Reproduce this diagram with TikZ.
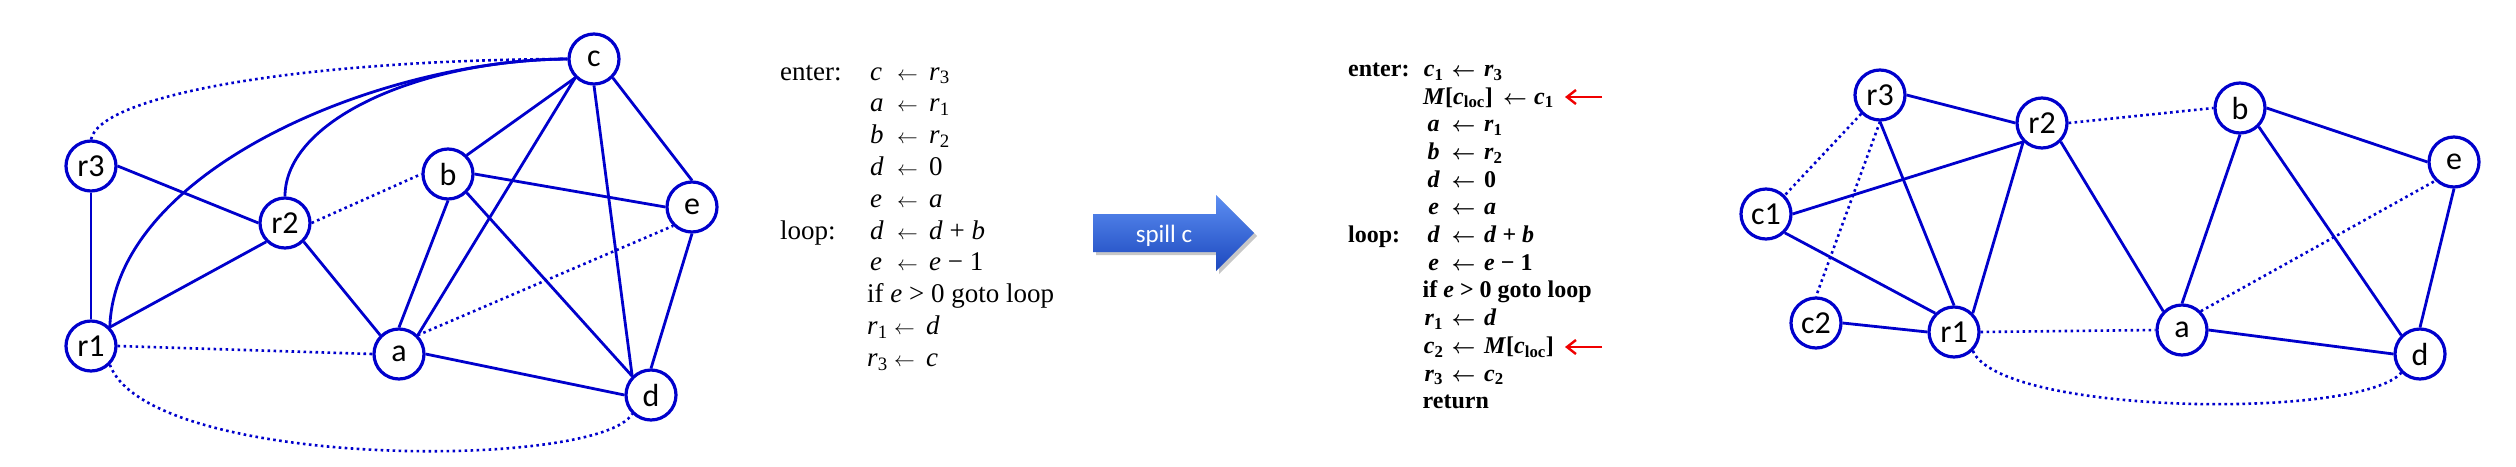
\documentclass[tikz,border=0pt]{standalone}
\usepackage{fontspec}
\setmainfont{Liberation Serif}
\newfontfamily\calfont{Carlito}
\usetikzlibrary{arrows.meta}
\definecolor{gblue}{RGB}{0,0,204}
\definecolor{spilltop}{RGB}{92,142,242}
\definecolor{spillbot}{RGB}{28,72,190}
\definecolor{redarr}{RGB}{240,0,0}
\newcommand\vr[1]{\textit{#1}}
\newcommand\larr{{\fontsize{22.5}{22.5}\selectfont$\leftarrow$}}
\newcommand\rarr{{\fontsize{21}{21}\selectfont\boldmath$\leftarrow$}}
\newcommand\lrow[2]{\makebox[27pt][l]{#1}\makebox[32pt][l]{\larr}#2}
\newcommand\rrow[2]{\makebox[22pt][c]{#1}\hspace{7pt}\makebox[32.5pt][l]{\rarr}#2}
\begin{document}
\begin{tikzpicture}[x=1pt,y=-1pt,
  vertex/.style={circle, draw=gblue, line width=3.2pt, minimum size=50pt, inner sep=0pt, fill=white,
    font=\calfont\fontsize{32}{32}\selectfont},
  solidedge/.style={gblue, line width=2.8pt},
  dotedge/.style={gblue, line width=2.6pt, dash pattern=on 2.6pt off 3.4pt},
  codel/.style={anchor=base west, inner sep=0pt, font=\fontsize{27}{32}\selectfont},
  coder/.style={anchor=base west, inner sep=0pt, font=\fontsize{24}{28}\selectfont\bfseries},
  redarrow/.style={draw=redarr, line width=2.4pt, -{Straight Barb[length=9pt,width=14pt]}},
  spilltext/.style={anchor=base, inner sep=0pt, text=white, font=\calfont\fontsize{25}{25}\selectfont},
]
\fill[white] (0,0) rectangle (2516,466);
\useasboundingbox (0,0) rectangle (2516,466);

% ---------- left graph ----------
\node[vertex] (Lc)  at (594,59)  {c};
\node[vertex] (Lr3) at (91,166)  {r3};
\node[vertex] (Lb)  at (448,174) {b};
\node[vertex] (Lr2) at (285,223) {r2};
\node[vertex] (Le)  at (692,207) {e};
\node[vertex] (Lr1) at (91,346)  {r1};
\node[vertex] (La)  at (399,354) {a};
\node[vertex] (Ld)  at (651,395) {d};

\draw[solidedge] (Lr3.east) -- (Lr2.west);
\draw[solidedge] (Lr3.south) -- (Lr1.north);
\draw[solidedge] (Lr1.north east) -- (Lr2.south west);
\draw[solidedge] (Lr2.south east) -- (La.north west);
\draw[solidedge] (Lr2.north) .. controls (285,120) and (420,60) .. (Lc.west);
\draw[solidedge] (Lr1.north east) .. controls (115,170) and (380,60) .. (Lc.west);
\draw[solidedge] (Lc.south west) -- (Lb.north east);
\draw[solidedge] (Lc.south west) -- (La.north east);
\draw[solidedge] (Lc.south) -- (Ld.north west);
\draw[solidedge] (Lc.south east) -- (Le.north);
\draw[solidedge] (Lb.east) -- (Le.west);
\draw[solidedge] (Lb.south) -- (La.north);
\draw[solidedge] (Lb.south east) -- (Ld.north west);
\draw[solidedge] (Le.south) -- (Ld.north);
\draw[solidedge] (La.east) -- (Ld.west);
\draw[dotedge] (Lr3.north) .. controls (100,95) and (300,60) .. (Lc.west);
\draw[dotedge] (Lr2.east) -- (Lb.west);
\draw[dotedge] (La.north east) -- (Le.south west);
\draw[dotedge] (Lr1.east) -- (La.west);
\draw[dotedge] (Lr1.south east) .. controls (150,470) and (600,470) .. (Ld.south west);

% ---------- original code ----------
\node[codel] (lenter) at (780,80) {enter:};
\node[codel] (lloop)  at (780,239) {loop:};
\node[codel] (l1)  at (870,80)    {\lrow{\vr{c}}{\vr{r}\textsubscript{3}}};
\node[codel] (l2)  at (870,111.8) {\lrow{\vr{a}}{\vr{r}\textsubscript{1}}};
\node[codel] (l3)  at (870,143.6) {\lrow{\vr{b}}{\vr{r}\textsubscript{2}}};
\node[codel] (l4)  at (870,175.4) {\lrow{\vr{d}}{0}};
\node[codel] (l5)  at (870,207.2) {\lrow{\vr{e}}{\vr{a}}};
\node[codel] (l6)  at (870,239)   {\lrow{\vr{d}}{\vr{d} + \vr{b}}};
\node[codel] (l7)  at (870,270.8) {\lrow{\vr{e}}{\vr{e} − 1}};
\node[codel] (l8)  at (867,302.6) {if \vr{e} > 0 goto loop};
\node[codel] (l9)  at (867,334.4) {\lrow{\vr{r}\textsubscript{1}}{\vr{d}}};
\node[codel] (l10) at (867,366.2) {\lrow{\vr{r}\textsubscript{3}}{\vr{c}}};

% ---------- spill arrow ----------
\fill[black, opacity=0.22, shift={(3,3)}]
  (1093,214) -- (1216,214) -- (1216,195) -- (1254,233) -- (1216,271) -- (1216,252) -- (1093,252) -- cycle;
\shade[top color=spilltop, bottom color=spillbot]
  (1093,214) -- (1216,214) -- (1216,195) -- (1254,233) -- (1216,271) -- (1216,252) -- (1093,252) -- cycle;
\node[spilltext] (spill) at (1164,242) {spill c};

% ---------- rewritten code ----------
\node[coder] (renter) at (1348,76.6) {enter:};
\node[coder] (rloop)  at (1348,242.6) {loop:};
\node[coder] (r0)  at (1422.5,76.6)  {\rrow{\vr{c}\textsubscript{1}}{\vr{r}\textsubscript{3}}};
\node[coder] (r1)  at (1423,104.1)   {\makebox[80pt][l]{\vr{M}[\vr{c}\textsubscript{loc}]}\makebox[31pt][l]{\rarr}\vr{c}\textsubscript{1}};
\node[coder] (r2)  at (1422.5,131.8) {\rrow{\vr{a}}{\vr{r}\textsubscript{1}}};
\node[coder] (r3)  at (1422.5,159.5) {\rrow{\vr{b}}{\vr{r}\textsubscript{2}}};
\node[coder] (r4)  at (1422.5,187.2) {\rrow{\vr{d}}{0}};
\node[coder] (r5)  at (1422.5,214.9) {\rrow{\vr{e}}{\vr{a}}};
\node[coder] (r6)  at (1422.5,242.6) {\rrow{\vr{d}}{\vr{d} + \vr{b}}};
\node[coder] (r7)  at (1422.5,270.3) {\rrow{\vr{e}}{\vr{e} − 1}};
\node[coder] (r8)  at (1422.5,297.5) {if \vr{e} > 0 goto loop};
\node[coder] (r9)  at (1422.5,325.7) {\rrow{\vr{r}\textsubscript{1}}{\vr{d}}};
\node[coder] (r10) at (1422.5,353.4) {\rrow{\vr{c}\textsubscript{2}}{\vr{M}[\vr{c}\textsubscript{loc}]}};
\node[coder] (r11) at (1422.5,381.1) {\rrow{\vr{r}\textsubscript{3}}{\vr{c}\textsubscript{2}}};
\node[coder] (r12) at (1422.5,408.8) {return};

\coordinate (ra1s) at (1602,97);
\coordinate (ra1e) at (1565,97);
\coordinate (ra2s) at (1602,347);
\coordinate (ra2e) at (1565,347);
\draw[redarrow] (ra1s) -- (ra1e);
\draw[redarrow] (ra2s) -- (ra2e);

% ---------- right graph ----------
\node[vertex] (Rr3) at (1880,95)  {r3};
\node[vertex] (Rr2) at (2042,123) {r2};
\node[vertex] (Rb)  at (2240,108) {b};
\node[vertex] (Re)  at (2454,162) {e};
\node[vertex] (Rc1) at (1766,214) {c1};
\node[vertex] (Rc2) at (1816,323) {c2};
\node[vertex] (Rr1) at (1954,332) {r1};
\node[vertex] (Ra)  at (2182,330) {a};
\node[vertex] (Rd)  at (2420,354) {d};

\draw[solidedge] (Rr3.east) -- (Rr2.west);
\draw[solidedge] (Rr3.south) -- (Rr1.north);
\draw[solidedge] (Rc1.east) -- (Rr2.south west);
\draw[solidedge] (Rc1.south east) -- (Rr1.north west);
\draw[solidedge] (Rc2.east) -- (Rr1.west);
\draw[solidedge] (Rr1.north east) -- (Rr2.south west);
\draw[solidedge] (Rr2.south east) -- (Ra.north west);
\draw[solidedge] (Rb.south) -- (Ra.north);
\draw[solidedge] (Rb.east) -- (Re.west);
\draw[solidedge] (Rb.south east) -- (Rd.north west);
\draw[solidedge] (Re.south) -- (Rd.north);
\draw[solidedge] (Ra.east) -- (Rd.west);
\draw[dotedge] (Rr3.south west) -- (Rc1.north east);
\draw[dotedge] (Rr3.south) -- (Rc2.north);
\draw[dotedge] (Rr2.east) -- (Rb.west);
\draw[dotedge] (Ra.north east) -- (Re.south west);
\draw[dotedge] (Rr1.east) -- (Ra.west);
\draw[dotedge] (Rr1.south east) .. controls (2000,415) and (2360,420) .. (Rd.south west);
\end{tikzpicture}
\end{document}
